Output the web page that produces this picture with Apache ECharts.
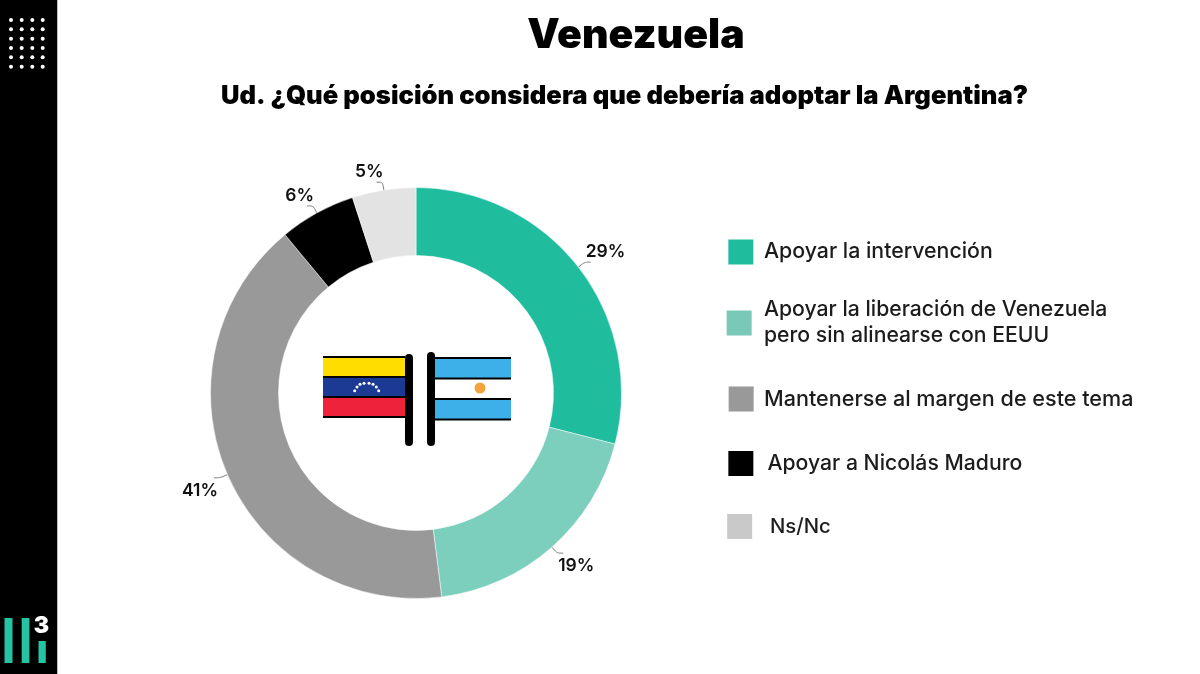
<!DOCTYPE html>
<html><head><meta charset="utf-8">
<style>html,body{margin:0;padding:0;background:#fff}#c{width:1200px;height:674px}</style>
<script src="https://cdn.jsdelivr.net/npm/echarts@6/dist/echarts.min.js"></script>
</head><body><div id="c"></div>
<script>
const categories = ["Apoyar la intervención","Apoyar la liberación de Venezuela\npero sin alinearse con EEUU","Mantenerse al margen de este tema","Apoyar a Nicolás Maduro","Ns/Nc"];
const values = [29,19,41,6,5];
const sliceColors = ["#20BC9E","#7DCFBD","#999999","#000000","#E3E3E3"];
const legendColors = ["#20BC9E","#7AC9B7","#999999","#000000","#C9C9C9"];
const FONT = "Inter, 'Noto Sans', sans-serif";
const chart = echarts.init(document.getElementById('c'),null,{renderer:'canvas'});

const legendPos = [[726.35,237.4,[0,0,0,4.65],21.3],[724.65,292,[10,0,0,6.35],21.2],[726.65,384.5,[0,0,0,4.35],21.6],[726.35,449,[0,0,0,8.15],21.2],[725.15,512,[0,0,0,11.85],20.3]];
const legends = categories.map((n,i)=>({
  left:legendPos[i][0], top:legendPos[i][1], orient:'vertical', selectedMode:false, padding:0,
  itemWidth:27, itemHeight:27, icon:'rect',
  textStyle:{fontFamily:FONT,fontSize:legendPos[i][3],fontWeight:500,color:'#1c1c1c',lineHeight:26,padding:legendPos[i][2]},
  data:[{name:n,itemStyle:{color:legendColors[i]}}]
}));

const g=[];
const rect=(x,y,w,h,fill,r,z)=>g.push({type:'rect',shape:{x,y,width:w,height:h,r:r||0},style:{fill},z:z||5,silent:true});
// side bar
rect(0,0,57,674,'#000');
rect(57,0,1,674,'#bdbdbd');
[20,29.3,38.7,48,57.3,66.7].forEach(y=>[11,21.7,32.3,42.7].forEach(x=>g.push({type:'circle',shape:{cx:x,cy:y,r:2},style:{fill:'#fff'},z:6,silent:true})));
rect(4.5,618,8,45,'#25C2A4',0,6);rect(21.7,618,7.7,45,'#25C2A4',0,6);rect(38.5,641,7.3,22,'#25C2A4',0,6);
g.push({type:'text',style:{text:'3',x:41.5,y:626,fill:'#fff',font:"900 23px "+FONT,textAlign:'center',textVerticalAlign:'middle'},z:6,silent:true});
// Venezuela flag
rect(323,358,82,19,'#FFDD00');rect(323,377,82,20,'#1B3A94');rect(323,397,82,20,'#EE2339');
[356,376,396,416].forEach(y=>rect(323,y,82,2,'#000',0,6));
[[354.7,390.7],[357,387],[360,384.3],[364,383.3],[369,383.3],[373,384.3],[376.3,387],[378.7,390.7]].forEach(p=>g.push({type:'circle',shape:{cx:p[0],cy:p[1],r:1.5},style:{fill:'#fff'},z:7,silent:true}));
rect(405,354,8,92,'#000',4,7);
// Argentina flag
rect(435,358,76,20,'#3DB0EA');rect(435,378,76,21,'#fff');rect(435,399,76,20,'#3DB0EA');
[357,377.5,398,418.5].forEach(y=>rect(435,y,76,2,'#000',0,6));
g.push({type:'circle',shape:{cx:480,cy:388,r:5.5},style:{fill:'#F2A33C'},z:7,silent:true});
rect(427,352,8,94,'#000',4,7);

const labelShift = [[-6,-10],[-6,13],[5,13],[8,-10],[8,-10]];

chart.setOption({
  animation:false,
  backgroundColor:'#fff',
  title:[
    {text:'Venezuela',left:636,top:15,padding:0,textAlign:'center',textStyle:{fontFamily:FONT,fontSize:41,fontWeight:900,color:'#000'}},
    {text:'Ud. ¿Qué posición considera que debería adoptar la Argentina?',left:624.5,top:83,padding:0,textAlign:'center',textStyle:{fontFamily:FONT,fontSize:25.6,fontWeight:900,color:'#000'}}
  ],
  legend:legends,
  graphic:{elements:g},
  series:[{
    type:'pie',center:[416,393],radius:[137.5,205.5],startAngle:90,clockwise:true,
    avoidLabelOverlap:false,
    itemStyle:{borderColor:'#fff',borderWidth:0.5},
    label:{show:true,position:'outside',formatter:'{c}%',fontFamily:FONT,fontSize:17.5,fontWeight:600,color:'#111',distanceToLabelLine:1},
    labelLine:{show:true,length:8,length2:6,smooth:true,lineStyle:{color:'#777',width:1}},
    labelLayout:p=>({dx:labelShift[p.dataIndex][0],dy:labelShift[p.dataIndex][1]}),
    data:categories.map((n,i)=>({name:n,value:values[i],itemStyle:{color:sliceColors[i]}}))
  }]
});
</script></body></html>
